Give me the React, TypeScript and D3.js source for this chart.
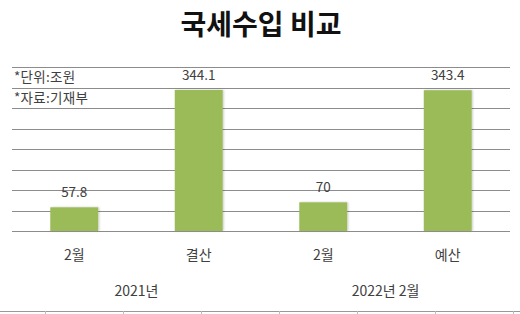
import React from "react";
import * as d3 from "d3";

const categories = ["2월", "결산", "2월", "예산"];
const values = [57.8, 344.1, 70, 343.4];
const valueLabels = ["57.8", "344.1", "70", "343.4"];
const groups = ["2021년", "2022년 2월"];
const groupSpans = [2, 2];
const yTicks = [50, 100, 150, 200, 250, 300, 350, 400];
const notes = ["*단위:조원", "*자료:기재부"];
const title = "국세수입 비교";

const W = 520;
const H = 314;
const left = 12;
const right = 510;
const axisY = 231;
const topY = 67;
const font = "'Noto Sans CJK KR', 'Noto Sans', sans-serif";
const textColor = "#404040";
const gridColor = "#8c8c8c";
const barColor = "#9bbb59";

export default function App() {
  const y = d3.scaleLinear().domain([0, 400]).range([axisY, topY]);
  const x = d3
    .scaleBand<number>()
    .domain(d3.range(categories.length))
    .range([left, right])
    .padding(0);
  const bw = x.bandwidth() * 0.385;

  const groupStarts = d3.cumsum([0, ...groupSpans]);
  const groupBounds = groupStarts.map((s) =>
    s < categories.length ? (x(s) as number) : right
  );

  const sheetTicks = d3.range(45, W + 1, 78);

  return (
    <svg
      width={W}
      height={H}
      style={{ position: "absolute", left: 0, top: 0, background: "#fff" }}
      fontFamily={font}
    >
      <defs>
        <filter id="sh" x="-20%" y="-10%" width="140%" height="120%">
          <feGaussianBlur in="SourceAlpha" stdDeviation="0.8" />
          <feOffset dx="1.2" dy="0" result="b" />
          <feComponentTransfer>
            <feFuncA type="linear" slope="0.22" />
          </feComponentTransfer>
          <feMerge>
            <feMergeNode />
            <feMergeNode in="SourceGraphic" />
          </feMerge>
        </filter>
      </defs>
      <rect width={W} height={H} fill="#fff" />
      <text
        x={261}
        y={35}
        textAnchor="middle"
        fontSize={28}
        fontWeight="bold"
        fill="#111"
      >
        {title}
      </text>

      {yTicks.map((t) => (
        <line
          key={t}
          x1={left}
          x2={right}
          y1={Math.round(y(t)) + 0.5}
          y2={Math.round(y(t)) + 0.5}
          stroke={gridColor}
          strokeWidth={1}
        />
      ))}

      {notes.map((n, i) => (
        <text
          key={n}
          x={14}
          y={(y(yTicks[yTicks.length - 1 - i]) + y(yTicks[yTicks.length - 2 - i])) / 2 + 5}
          fontSize={13.5}
          letterSpacing={0.3}
          fill={textColor}
        >
          {n}
        </text>
      ))}

      {values.map((v, i) => {
        const cx = (x(i) as number) + x.bandwidth() / 2;
        return (
          <g key={i}>
            <rect
              x={cx - bw / 2}
              y={y(v)}
              width={bw}
              height={axisY - y(v)}
              fill={barColor}
              filter="url(#sh)"
            />
            <text
              x={cx}
              y={y(v) - 10}
              textAnchor="middle"
              fontSize={13.5}
              fill={textColor}
            >
              {valueLabels[i]}
            </text>
            <text
              x={cx}
              y={260}
              textAnchor="middle"
              fontSize={14}
              fill={textColor}
            >
              {categories[i]}
            </text>
          </g>
        );
      })}

      <line x1={left} x2={right} y1={axisY + 0.5} y2={axisY + 0.5} stroke={gridColor} />
      {groupBounds.map((gx, i) => (
        <line
          key={i}
          x1={Math.round(gx) + 0.5}
          x2={Math.round(gx) + 0.5}
          y1={axisY}
          y2={303}
          stroke={gridColor}
        />
      ))}
      {groups.map((g, i) => (
        <text
          key={g}
          x={(groupBounds[i] + groupBounds[i + 1]) / 2}
          y={296}
          textAnchor="middle"
          fontSize={14}
          fill={textColor}
        >
          {g}
        </text>
      ))}

      <line x1={0} x2={W} y1={311.5} y2={311.5} stroke="#999" />
      {sheetTicks.map((t) => (
        <line key={t} x1={t + 0.5} x2={t + 0.5} y1={311} y2={H} stroke="#bbb" />
      ))}
    </svg>
  );
}
